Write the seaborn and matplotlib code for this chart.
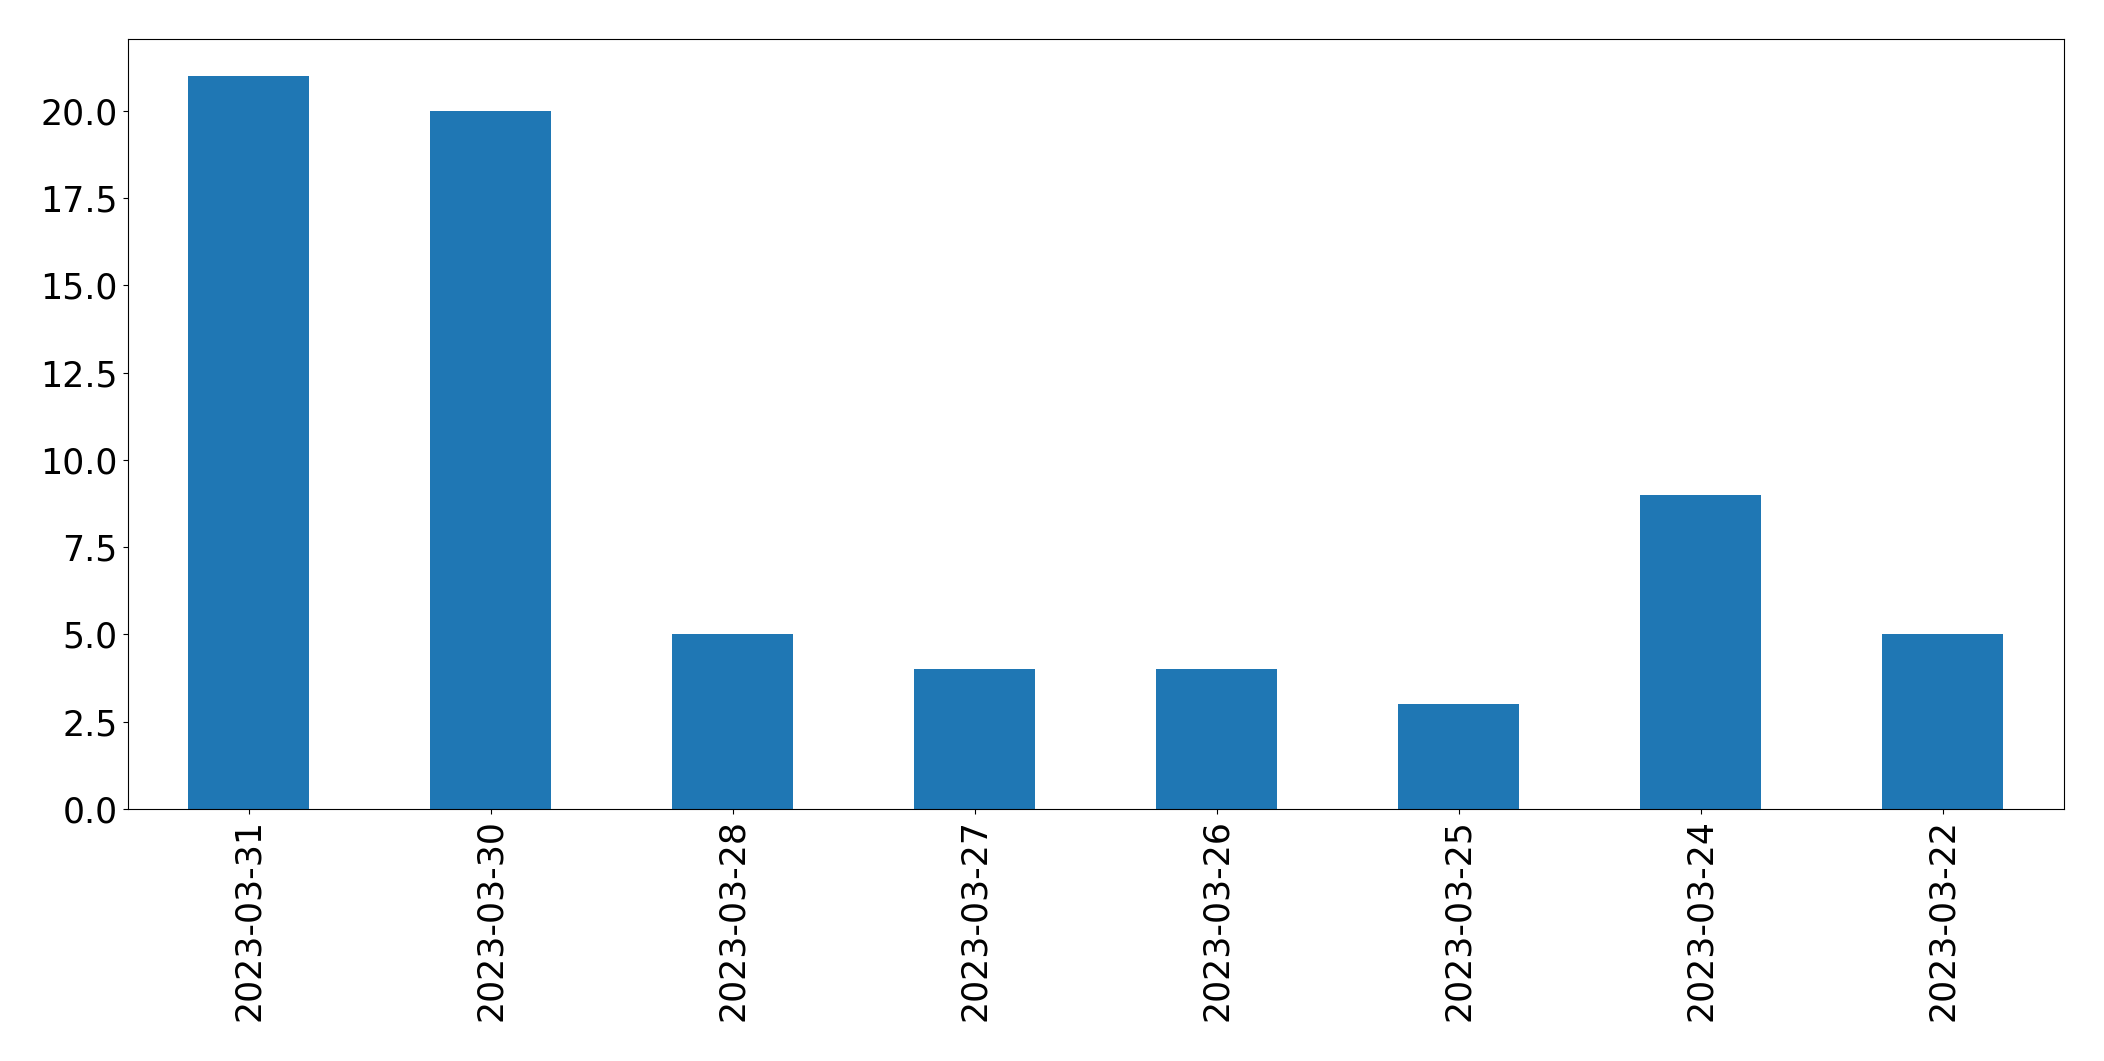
import matplotlib
matplotlib.use("Agg")
import matplotlib.pyplot as plt
import seaborn as sns

dates = ["2023-03-31", "2023-03-30", "2023-03-28", "2023-03-27",
         "2023-03-26", "2023-03-25", "2023-03-24", "2023-03-22"]
counts = [21, 20, 5, 4, 4, 3, 9, 5]

fig, ax = plt.subplots(figsize=(21.04, 10.61), dpi=100)
sns.barplot(x=dates, y=counts, width=0.5, color="#1f77b4", saturation=1, ax=ax)
ax.set_xlim(-0.5, len(dates) - 0.5)
ax.set_ylim(0, max(counts) * 1.05)
ax.tick_params(axis="both", labelsize=25)
ax.tick_params(axis="x", labelrotation=90)
ax.set_xlabel("")
ax.set_ylabel("")
fig.subplots_adjust(left=127.5 / 2104, right=2064 / 2104,
                    top=1 - 39.3 / 1061, bottom=1 - 809 / 1061)
fig.savefig("out.png", dpi=100)
